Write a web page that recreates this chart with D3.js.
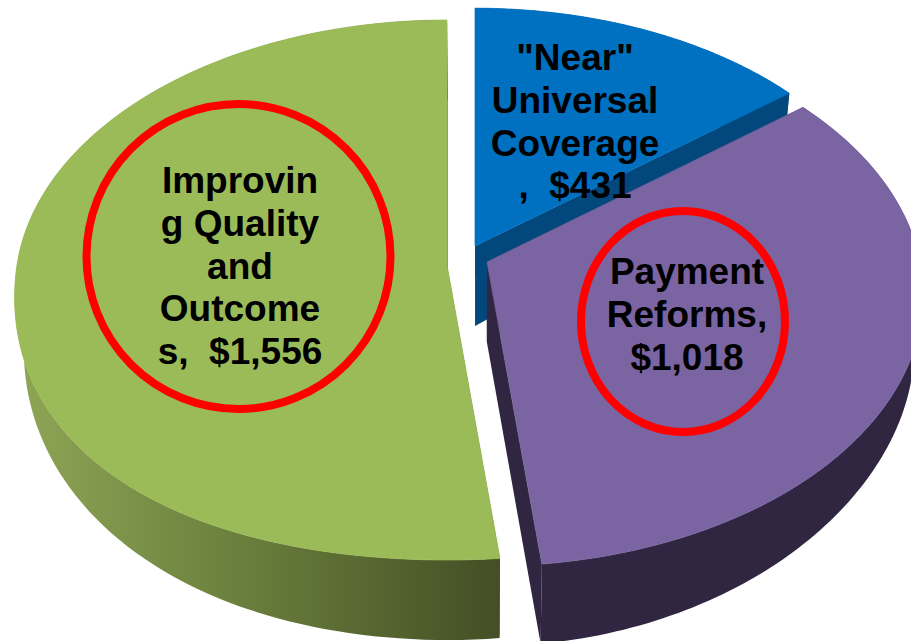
<!DOCTYPE html>
<html>
<head>
<meta charset="utf-8">
<script src="https://cdn.jsdelivr.net/npm/d3@7/dist/d3.min.js"></script>
<style>html,body{margin:0;padding:0;background:#fff;overflow:hidden}</style>
</head>
<body>
<svg id="c" width="911" height="641"></svg>
<script>
const categories = ["Near Universal Coverage", "Payment Reforms", "Improving Quality and Outcomes"];
const values = [431, 1018, 1556];
const labelLines = [
  ['"Near"', 'Universal', 'Coverage', ',  $431'],
  ['Payment', 'Reforms,', '$1,018'],
  ['Improvin', 'g Quality', 'and', 'Outcome', 's,  $1,556']
];
const topColors = ["#0070c0", "#7a64a2", "#9bbb59"];
const sideColors = ["#03487c", "#302641", "url(#greenSide)"];
const greenStops = [[0, "#8ea555"], [0.45, "#6b803d"], [1, "#444f25"]];

// layout (not data)
const RY = 267.7, DEPTH = 80, Q = 0.02;
const RXs = [436, 433, 430];
const Ks = [0.1, 0.12, 0.0926];
const bulge = [0, 0, 0.03];
const apexes = [[475, 246], [487, 262], [447, 265]];
const sliceScale = [0.975, 1, 1];
const labelAnchors = [[575, 70], [687, 284], [240, 193]];
const LINE = 42.8;
const rings = [[238.5, 256.5, 152, 152.5], [683, 321.5, 102, 110.5]];

const svg = d3.select("#c");
const defs = svg.append("defs");
const grad = defs.append("linearGradient").attr("id", "greenSide")
  .attr("gradientUnits", "userSpaceOnUse").attr("x1", 20).attr("x2", 497).attr("y1", 0).attr("y2", 0);
grad.selectAll("stop").data(greenStops).join("stop")
  .attr("offset", d => d[0]).attr("stop-color", d => d[1]);

const pie = d3.pie().sort(null).startAngle(0).endAngle(2 * Math.PI);
const arcs = pie(values);

function project(i, a, r) {
  const front = Math.cos(a) < 0 ? Math.pow(Math.sin(2 * a), 2) : 0;
  const rr = r * sliceScale[i] * (1 + bulge[i] * front);
  const u = rr * Math.sin(a), v = rr * Math.cos(a);
  const s = 1 / (1 + Ks[i] * v);
  return { x: apexes[i][0] + RXs[i] * u * s, y: apexes[i][1] - RY * v * s, u };
}
function lower(i, p) {
  const d = DEPTH * (1 - 0.35 * p.u * p.u);
  return [p.x - (p.x - 480) * Q, p.y + d];
}
const line = d3.line();

arcs.forEach((d, i) => {
  const angles = d3.range(0, 121).map(t => d.startAngle + (d.endAngle - d.startAngle) * t / 120);
  const rim = angles.map(a => project(i, a, 1));
  const apex = project(i, 0, 0);
  const g = svg.append("g").attr("class", "slice");
  const rimTop = rim.map(p => [p.x, p.y]);
  const rimLow = rim.map(p => lower(i, p));
  const side = [
    rimTop.concat(rimLow.slice().reverse()),
    [[apex.x, apex.y], rimTop[0], rimLow[0], lower(i, apex)],
    [[apex.x, apex.y], rimTop[120], rimLow[120], lower(i, apex)]
  ];
  g.selectAll("path.side").data(side).join("path").attr("class", "side")
    .attr("d", p => line(p) + "Z")
    .attr("fill", sideColors[i]);
  g.append("path").attr("class", "top")
    .attr("d", line([[apex.x, apex.y]].concat(rimTop)) + "Z")
    .attr("fill", topColors[i]).attr("stroke", topColors[i]).attr("stroke-width", 0.7);
});

svg.selectAll("ellipse.ring").data(rings).join("ellipse").attr("class", "ring")
  .attr("cx", d => d[0]).attr("cy", d => d[1]).attr("rx", d => d[2]).attr("ry", d => d[3])
  .attr("fill", "none").attr("stroke", "#ff0000").attr("stroke-width", 8);

labelLines.forEach((lines, i) => {
  const t = svg.append("text").attr("text-anchor", "middle")
    .attr("font-family", "'Liberation Sans', Arial, sans-serif")
    .attr("font-weight", "bold").attr("font-size", 37).attr("fill", "#000")
    .style("white-space", "pre").attr("xml:space", "preserve");
  lines.forEach((l, j) => {
    t.append("tspan").attr("x", labelAnchors[i][0])
      .attr("y", labelAnchors[i][1] + j * LINE).text(l);
  });
});
</script>
</body>
</html>
